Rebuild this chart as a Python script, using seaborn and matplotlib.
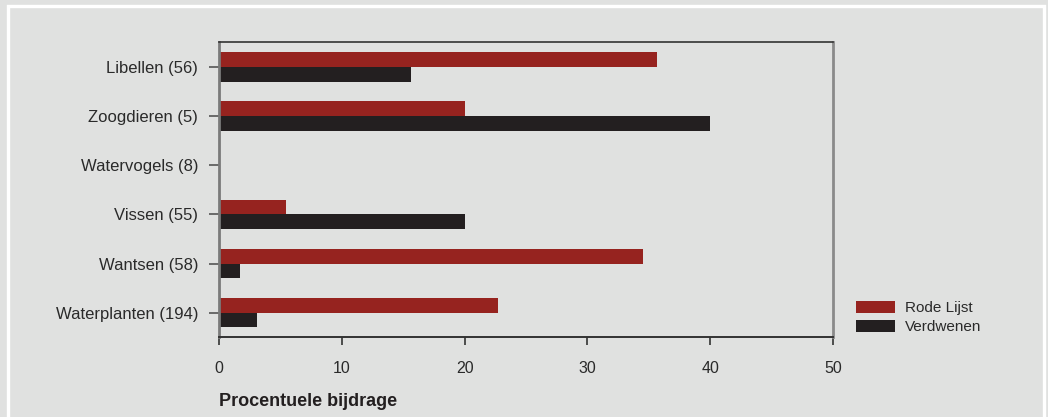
import matplotlib
matplotlib.use("Agg")
import matplotlib.pyplot as plt
from matplotlib.patches import Rectangle
import seaborn as sns
import pandas as pd

# Soortgroepen met aantal soorten, en bijdrage (%) per categorie
groepen = ["Libellen (56)", "Zoogdieren (5)", "Watervogels (8)",
           "Vissen (55)", "Wantsen (58)", "Waterplanten (194)"]
rode_lijst = [35.7, 20.0, 0.0, 5.45, 34.5, 22.7]
verdwenen = [15.6, 40.0, 0.0, 20.0, 1.72, 3.09]
series = ["Rode Lijst", "Verdwenen"]
x_ticks = [0, 10, 20, 30, 40, 50]

BG = "#e0e1e0"
RED = "#96231f"
BLACK = "#231f20"

df = pd.DataFrame({
    "groep": groepen * 2,
    "waarde": rode_lijst + verdwenen,
    "reeks": [series[0]] * len(groepen) + [series[1]] * len(groepen),
})

sns.set_theme(style="white")
plt.rcParams["font.family"] = ["Liberation Sans", "DejaVu Sans"]

fig = plt.figure(figsize=(10.48, 4.17), dpi=100, facecolor=BG)
ax = fig.add_axes([219 / 1048, 1 - 337.3 / 417, (833 - 219) / 1048, (337.3 - 42.3) / 417])
ax.set_facecolor(BG)

sns.barplot(data=df, y="groep", x="waarde", hue="reeks", order=groepen,
            hue_order=series, palette=[RED, BLACK], orient="h",
            width=0.6, saturation=1, linewidth=0, ax=ax, legend=True)

ax.set_xlim(0, 50)
ax.set_ylim(5.5, -0.5)
ax.set_xticks(x_ticks)
ax.set_xticklabels([str(t) for t in x_ticks])
ax.set_xlabel("")
ax.set_ylabel("")

ax.tick_params(axis="y", which="both", direction="out", length=7, width=1.2,
               color="#555555", pad=8, labelsize=12, labelcolor="#2a2a2a", left=True)
ax.tick_params(axis="x", which="both", direction="out", length=6, width=1.2,
               color="#333333", pad=11, labelsize=11.5, labelcolor="#2a2a2a", bottom=True)

for side, col, lw in [("top", "#333333", 1.2), ("bottom", "#333333", 1.4),
                      ("left", "#7a7a7a", 2.0), ("right", "#8a8a8a", 2.0)]:
    ax.spines[side].set_visible(True)
    ax.spines[side].set_color(col)
    ax.spines[side].set_linewidth(lw)

# Legenda rechts onderaan, buiten het plotvlak
handles, labels = ax.get_legend_handles_labels()
ax.legend(handles, labels, loc="upper left",
          bbox_to_anchor=(856 / 1048, 1 - 301 / 417), bbox_transform=fig.transFigure,
          frameon=False, fontsize=11, handlelength=2.55, handleheight=0.85,
          handletextpad=0.65, labelspacing=0.3, borderpad=0, borderaxespad=0,
          labelcolor="#2a2a2a")

fig.text(219 / 1048, 1 - 406 / 417, "Procentuele bijdrage", ha="left", va="baseline",
         fontsize=13, fontweight="bold", color="#231f20")

# Witte kaderlijn rondom (onderzijde valt buiten beeld)
fig.add_artist(Rectangle((7.5 / 1048, -0.2), (1043.5 - 7.5) / 1048, 1.2 - 6 / 417,
                         transform=fig.transFigure, fill=False,
                         edgecolor="white", linewidth=2.4))

fig.savefig("out.png", dpi=100, facecolor=BG)
